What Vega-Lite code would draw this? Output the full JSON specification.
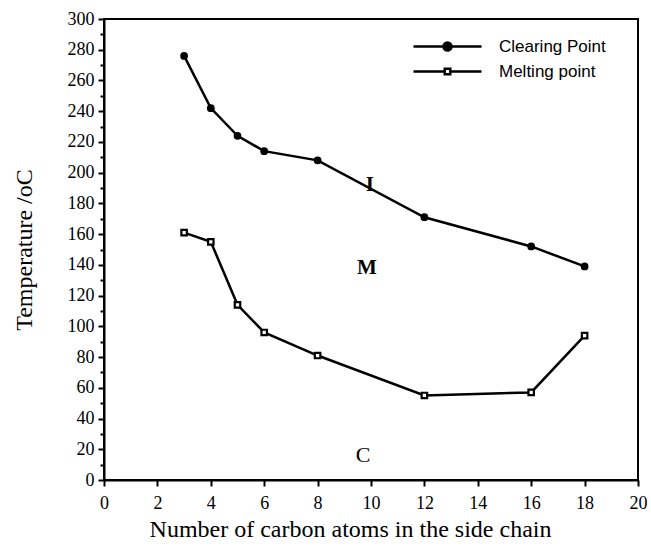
{
  "$schema": "https://vega.github.io/schema/vega-lite/v6.json",
  "width": 534,
  "height": 461,
  "autosize": {"type": "none"},
  "padding": {"left": 104, "top": 19, "right": 13, "bottom": 67},
  "background": "white",
  "config": {
    "view": {"stroke": "black", "strokeWidth": 2},
    "axis": {"labelFont": "Liberation Serif", "titleFont": "Liberation Serif", "labelColor": "black", "titleColor": "black", "domainColor": "black", "tickColor": "black", "grid": false, "titleFontWeight": "normal"}
  },
  "datasets": {
    "series": [
      {"n": 3, "t": 276, "series": "Clearing Point"},
      {"n": 4, "t": 242, "series": "Clearing Point"},
      {"n": 5, "t": 224, "series": "Clearing Point"},
      {"n": 6, "t": 214, "series": "Clearing Point"},
      {"n": 8, "t": 208, "series": "Clearing Point"},
      {"n": 12, "t": 171, "series": "Clearing Point"},
      {"n": 16, "t": 152, "series": "Clearing Point"},
      {"n": 18, "t": 139, "series": "Clearing Point"},
      {"n": 3, "t": 161, "series": "Melting point"},
      {"n": 4, "t": 155, "series": "Melting point"},
      {"n": 5, "t": 114, "series": "Melting point"},
      {"n": 6, "t": 96, "series": "Melting point"},
      {"n": 8, "t": 81, "series": "Melting point"},
      {"n": 12, "t": 55, "series": "Melting point"},
      {"n": 16, "t": 57, "series": "Melting point"},
      {"n": 18, "t": 94, "series": "Melting point"}
    ],
    "labels": [
      {"n": 9.96, "t": 192, "label": "I"},
      {"n": 9.85, "t": 138, "label": "M"},
      {"n": 9.7, "t": 16.5, "label": "C"}
    ]
  },
  "layer": [
    {
      "data": {"name": "series"},
      "mark": {"type": "line", "color": "black", "strokeWidth": 2.5},
      "encoding": {
        "x": {"field": "n", "type": "quantitative", "scale": {"domain": [0, 20], "nice": false},
          "axis": {"orient": "bottom", "values": [0,1,2,3,4,5,6,7,8,9,10,11,12,13,14,15,16,17,18,19,20],
            "labelExpr": "datum.value % 2 === 0 ? datum.label : ''", "labelOverlap": false,
            "tickSize": {"condition": {"test": "datum.value % 2 === 0", "value": 6}, "value": 4},
            "tickWidth": 2, "domainWidth": 2, "labelFontSize": 18, "labelPadding": 8, "labelFlush": false,
            "title": "Number of carbon atoms in the side chain", "titleFontSize": 24, "titlePadding": 5,
            "titleX": 246, "titleAlign": "center", "titleAnchor": "start"}},
        "y": {"field": "t", "type": "quantitative", "scale": {"domain": [0, 300], "nice": false},
          "axis": {"orient": "left", "values": [0,20,40,60,80,100,120,140,160,180,200,220,240,260,280,300],
            "labelOverlap": false, "tickSize": 6, "tickWidth": 2, "domainWidth": 2, "labelFontSize": 18, "labelPadding": 4, "labelFlush": false,
            "title": "Temperature /oC", "titleFontSize": 24, "titlePadding": 31}},
        "detail": {"field": "series"}
      }
    },
    {
      "data": {"name": "series"},
      "mark": {"type": "point", "filled": false, "opacity": 0, "strokeWidth": 2.5},
      "encoding": {
        "x": {"field": "n", "type": "quantitative"},
        "y": {"field": "t", "type": "quantitative", "axis": null},
        "shape": {"field": "series", "type": "nominal",
          "scale": {"domain": ["Clearing Point", "Melting point"], "range": ["M-6.8,0H6.8M0.8,0A0.8,0.8 0 1,1 -0.8,0A0.8,0.8 0 1,1 0.8,0Z", "M-6.8,0H-0.55M0.55,0H6.8M-0.55,-0.55H0.55V0.55H-0.55Z"]},
          "legend": {
            "orient": "none", "legendX": 335, "legendY": 19, "title": null, "padding": 0,
            "symbolSize": 100, "symbolOpacity": 1, "symbolStrokeWidth": 2.5,
            "labelFont": "Liberation Sans", "labelFontSize": 17, "labelColor": "black", "labelOffset": 43, "rowPadding": 6
          }},
        "fill": {"field": "series", "type": "nominal", "scale": {"domain": ["Clearing Point", "Melting point"], "range": ["black", "white"]}},
        "stroke": {"field": "series", "type": "nominal", "scale": {"domain": ["Clearing Point", "Melting point"], "range": ["black", "black"]}}
      }
    },
    {
      "data": {"name": "series"},
      "transform": [{"filter": "datum.series === 'Clearing Point'"}],
      "mark": {"type": "point", "shape": "circle", "filled": true, "color": "black", "opacity": 1, "size": 60},
      "encoding": {
        "x": {"field": "n", "type": "quantitative"},
        "y": {"field": "t", "type": "quantitative", "axis": null}
      }
    },
    {
      "data": {"name": "series"},
      "transform": [{"filter": "datum.series === 'Melting point'"}],
      "mark": {"type": "point", "shape": "square", "filled": false, "fill": "white", "stroke": "black", "strokeWidth": 2.2, "opacity": 1, "size": 30},
      "encoding": {
        "x": {"field": "n", "type": "quantitative"},
        "y": {"field": "t", "type": "quantitative", "axis": null}
      }
    },
    {
      "data": {"name": "labels"},
      "transform": [{"filter": "datum.label !== 'C'"}],
      "mark": {"type": "text", "font": "Liberation Serif", "fontSize": 21, "fontWeight": "bold", "color": "black", "align": "center", "baseline": "middle"},
      "encoding": {
        "x": {"field": "n", "type": "quantitative"},
        "y": {"field": "t", "type": "quantitative", "axis": null},
        "text": {"field": "label"}
      }
    },
    {
      "data": {"name": "labels"},
      "transform": [{"filter": "datum.label === 'C'"}],
      "mark": {"type": "text", "font": "Liberation Serif", "fontSize": 22, "color": "black", "align": "center", "baseline": "middle"},
      "encoding": {
        "x": {"field": "n", "type": "quantitative"},
        "y": {"field": "t", "type": "quantitative",
          "axis": {"orient": "left", "values": [10,30,50,70,90,110,130,150,170,190,210,230,250,270,290], "labels": false, "domain": false, "tickSize": 4, "tickWidth": 2, "title": null, "grid": false}},
        "text": {"field": "label"}
      }
    }
  ],
  "resolve": {"axis": {"y": "independent"}}
}
